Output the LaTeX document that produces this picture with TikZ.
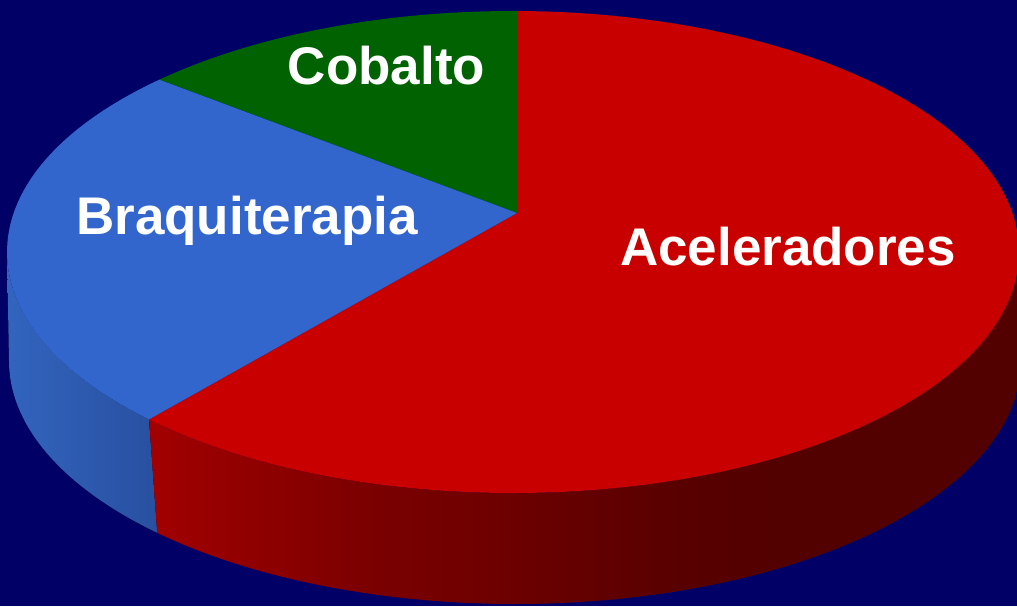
\documentclass[tikz,border=0pt]{standalone}
\usepackage{fontspec}
\setmainfont{Liberation Sans}
\usetikzlibrary{calc}
\definecolor{bg}{RGB}{0,0,102}
\definecolor{redtop}{RGB}{200,0,0}
\definecolor{greentop}{RGB}{0,98,0}
\definecolor{bluetop}{RGB}{51,102,204}
\definecolor{bsl}{RGB}{50,100,190}
\definecolor{bsr}{RGB}{40,80,160}
\definecolor{rsA}{RGB}{162,0,0}
\definecolor{rsB}{RGB}{122,0,0}
\definecolor{rsC}{RGB}{110,0,0}
\definecolor{rsD}{RGB}{88,0,0}
\definecolor{rsE}{RGB}{82,0,0}
\pgfdeclarehorizontalshading{redside}{100bp}{color(0bp)=(rsA); color(25bp)=(rsA); color(38bp)=(rsB); color(45bp)=(rsC); color(55.5bp)=(rsD); color(62bp)=(rsE); color(100bp)=(rsE)}
\begin{document}
\begin{tikzpicture}[x=1pt,y=1pt,
  lbl/.style={text=white,font=\fontsize{53}{60}\selectfont\bfseries,inner sep=0pt,anchor=base},
  topell/.style={x radius=506pt,y radius=241pt},
  botell/.style={x radius=506pt,y radius=243pt}]
\fill[bg] (0,0) rectangle (1017,606);
\useasboundingbox (0,0) rectangle (1017,606);
\clip (0,0) rectangle (1017,606);
\coordinate (T) at (513,354);
\coordinate (B) at (515,245);
\coordinate (A) at (517,393);
% blue side
\fill[left color=bsl,right color=bsr]
  ($(T)+(180:506pt and 241pt)$) arc[start angle=180,end angle=224,topell]
  -- ($(B)+(225:506pt and 243pt)$) arc[start angle=225,end angle=180,botell] -- cycle;
% red side
\shade[shading=redside]
  ($(T)+(224:506pt and 241pt)$) arc[start angle=224,end angle=360,topell]
  -- ($(B)+(0:506pt and 243pt)$) arc[start angle=360,end angle=225,botell] -- cycle;
% top wedges
\fill[redtop] (A) -- ($(T)+(224:506pt and 241pt)$) arc[start angle=224,end angle=449.55,topell] -- cycle;
\fill[greentop] (A) -- ($(T)+(89.55:506pt and 241pt)$) arc[start angle=89.55,end angle=134.35,topell] -- cycle;
\fill[bluetop] (A) -- ($(T)+(134.35:506pt and 241pt)$) arc[start angle=134.35,end angle=224,topell] -- cycle;
% labels
\node[lbl] (cob) at (386.5,521) {Cobalto};
\node[lbl] (braq) at (247,371) {Braquiterapia};
\node[lbl] (acel) at (788,341) {Aceleradores};
\end{tikzpicture}
\end{document}
